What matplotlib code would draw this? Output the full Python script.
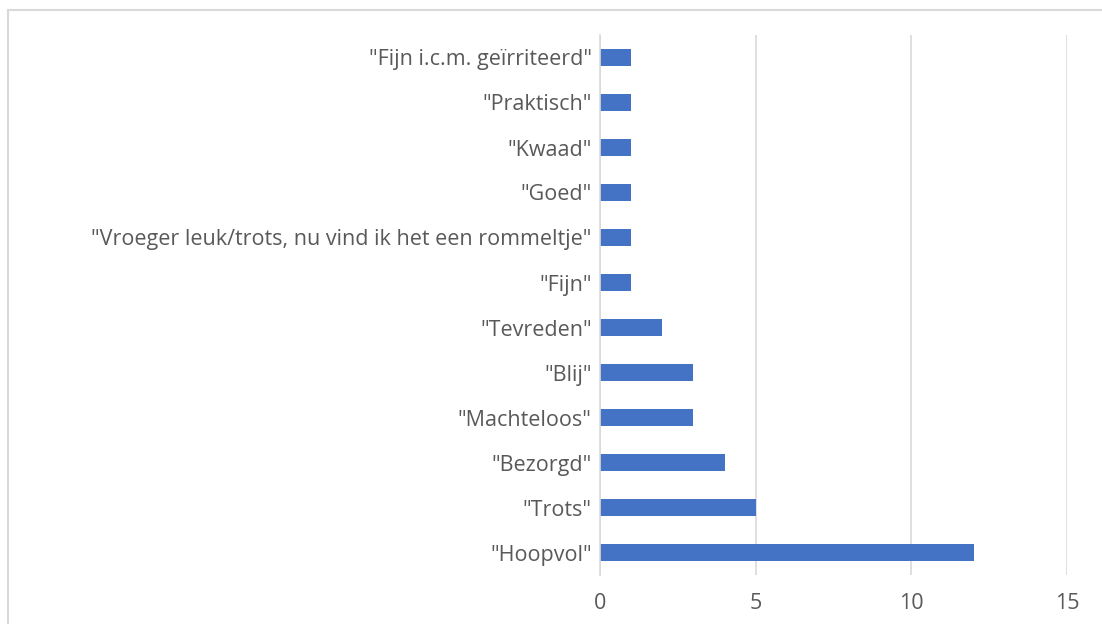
import matplotlib
matplotlib.use("Agg")
import matplotlib.pyplot as plt
from matplotlib.patches import Rectangle

categories = ['"Hoopvol"', '"Trots"', '"Bezorgd"', '"Machteloos"', '"Blij"', '"Tevreden"',
              '"Fijn"', '"Vroeger leuk/trots, nu vind ik het een rommeltje"', '"Goed"',
              '"Kwaad"', '"Praktisch"', '"Fijn i.c.m. geïrriteerd"']
values = [12, 5, 4, 3, 3, 2, 1, 1, 1, 1, 1, 1]
xticks = [0, 5, 10, 15]

plt.rcParams['font.family'] = ['Open Sans', 'DejaVu Sans']

fig = plt.figure(figsize=(11.02, 6.24), dpi=100)
fig.patch.set_facecolor('white')
fig.patches.append(Rectangle((8/1102, -0.1), 1.2, 1 - 10/624 + 0.1, transform=fig.transFigure,
                             fill=False, edgecolor='#d9d9d9', linewidth=1.5))

ax = fig.add_axes([600/1102, 1 - 575/624, (1067 - 600)/1102, 540/624])
y = list(range(len(categories)))
ax.barh(y, values, height=0.36, color='#4472C4', zorder=3)
ax.set_xlim(0, 15)
ax.set_ylim(-0.5, 11.5)
ax.set_xticks(xticks)
ax.set_yticks(y)
ax.set_yticklabels(categories)
ax.grid(axis='x', color='#d9d9d9', linewidth=1.2, zorder=0)
for s in ['top', 'right', 'bottom']:
    ax.spines[s].set_visible(False)
ax.spines['left'].set_color('#d9d9d9')
ax.spines['left'].set_linewidth(1.2)
ax.spines['left'].set_zorder(4)
ax.tick_params(axis='both', length=0, labelsize=15.5, colors='#595959')
ax.tick_params(axis='x', pad=13)
ax.tick_params(axis='y', pad=6)
ax.set_facecolor('none')

fig.savefig('out.png', dpi=100)
